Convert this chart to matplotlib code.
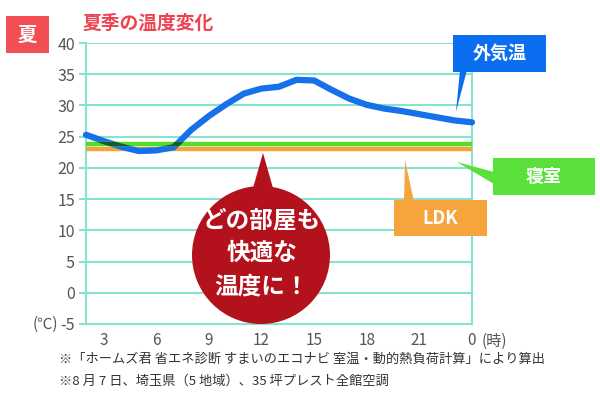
import matplotlib
matplotlib.use("Agg")
import matplotlib.pyplot as plt
from matplotlib.patches import Rectangle, Polygon, Circle

plt.rcParams['font.family'] = ['Noto Sans CJK JP', 'DejaVu Sans']

# ---- data ----
hours = list(range(2, 25))
outside = [25.3, 24.3, 23.4, 22.7, 22.8, 23.3, 26.1, 28.3, 30.2, 31.9, 32.7, 33.0,
           34.1, 34.0, 32.5, 31.1, 30.1, 29.5, 29.1, 28.6, 28.1, 27.6, 27.3]
bedroom = [23.8] * len(hours)
ldk = [23.0] * len(hours)
xticks = [3, 6, 9, 12, 15, 18, 21, 24]
xticklabels = ['3', '6', '9', '12', '15', '18', '21', '0']
yticks = list(range(-5, 41, 5))

W, H = 600, 396
fig = plt.figure(figsize=(6, 3.96), dpi=100)
fig.patch.set_facecolor('white')

def fx(x):
    return x / W

def fy(y):
    return 1 - y / H

ax = fig.add_axes([fx(86), fy(324), fx(472) - fx(86), fy(43) - fy(324)])
grid_c = '#86e3cf'
ax.set_xlim(2, 24)
ax.set_ylim(-5, 40)
ax.spines['top'].set_visible(False)
for s in ['left', 'right', 'bottom']:
    ax.spines[s].set_color(grid_c)
    ax.spines[s].set_linewidth(1.5)
ax.set_yticks(yticks)
ax.set_yticklabels([str(v) for v in yticks])
ax.set_xticks(xticks)
ax.set_xticklabels(xticklabels)
ax.yaxis.grid(True, color=grid_c, lw=1.5)
ax.set_axisbelow(True)
ax.tick_params(axis='y', colors=grid_c, length=5, width=1.5, labelcolor='#555555',
               labelsize=11.5, pad=3)
ax.tick_params(axis='x', length=0, labelcolor='#555555', labelsize=11, pad=6)

blue = '#1570ea'
green = '#52dc2c'
orange = '#f2a53a'
ax.plot(hours, ldk, color=orange, lw=3.2, solid_capstyle='butt', zorder=3)
ax.plot(hours, outside, color=blue, lw=4.5, solid_joinstyle='round',
        solid_capstyle='round', zorder=4, clip_on=False)
ax.plot(hours, bedroom, color=green, lw=3.2, solid_capstyle='butt', zorder=5)
dark, = ax.plot(hours, outside, color='#1c5a22', lw=4.5, solid_joinstyle='round', zorder=6)
clip = Rectangle((2, 23.45), 22, 0.7, transform=ax.transData, visible=False)
ax.add_patch(clip)
dark.set_clip_path(clip)

# axis unit labels
fig.text(fx(58), fy(324), '(℃)', ha='right', va='center', fontsize=11, color='#555555')
fig.text(fx(482), fy(341), '(時)', ha='left', va='center', fontsize=11, color='#555555')

# title block
fig.add_artist(Rectangle((fx(6), fy(53)), fx(49) - fx(6), fy(16) - fy(53),
                         transform=fig.transFigure, color='#f24f55', lw=0))
fig.text(fx(27.5), fy(35), '夏', ha='center', va='center', fontsize=14,
         fontweight='bold', color='white')
fig.text(fx(82), fy(23), '夏季の温度変化', ha='left', va='center', fontsize=13.5,
         fontweight='bold', color='#ee4250')

# callouts
def box(x0, y0, x1, y1, color, text, pointer, fs=13):
    fig.add_artist(Polygon([(fx(px), fy(py)) for px, py in pointer],
                           closed=True, transform=fig.transFigure, color=color, lw=0))
    fig.add_artist(Rectangle((fx(x0), fy(y1)), fx(x1) - fx(x0), fy(y0) - fy(y1),
                             transform=fig.transFigure, color=color, lw=0))
    fig.text(fx((x0 + x1) / 2), fy((y0 + y1) / 2), text, ha='center', va='center',
             fontsize=fs, fontweight='bold', color='white')

box(453, 35, 546, 72, '#0b6ef0', '外気温', [(460, 70), (467, 70), (456, 112)])
box(493, 158, 595, 195, '#5ae03a', '寝室', [(494, 172), (494, 184), (457, 162)])
box(394, 200, 487, 236, '#f5a53c', 'LDK', [(404, 202), (414, 202), (405, 160)])

# red bubble
bubble = '#b3111c'
fig.add_artist(Polygon([(fx(251), fy(195)), (fx(275), fy(195)), (fx(263), fy(153))],
                       closed=True, transform=fig.transFigure, color=bubble, lw=0))
circ = Circle((261, H - 255), 69, transform=None, color=bubble, lw=0)
fig.add_artist(circ)
for txt, yy in [('どの部屋も', 220), ('快適な', 253), ('温度に！', 286)]:
    fig.text(fx(262), fy(yy), txt, ha='center', va='center', fontsize=17,
             fontweight='bold', color='white')

# footnotes
fig.text(fx(59), fy(359), '※「ホームズ君 省エネ診断 すまいのエコナビ 室温・動的熱負荷計算」により算出',
         ha='left', va='center', fontsize=9.5, color='#333333')
fig.text(fx(59), fy(381), '※8 月 7 日、埼玉県（5 地域）、35 坪プレスト全館空調',
         ha='left', va='center', fontsize=9.5, color='#333333')

fig.savefig('out.png', dpi=100, facecolor='white')
